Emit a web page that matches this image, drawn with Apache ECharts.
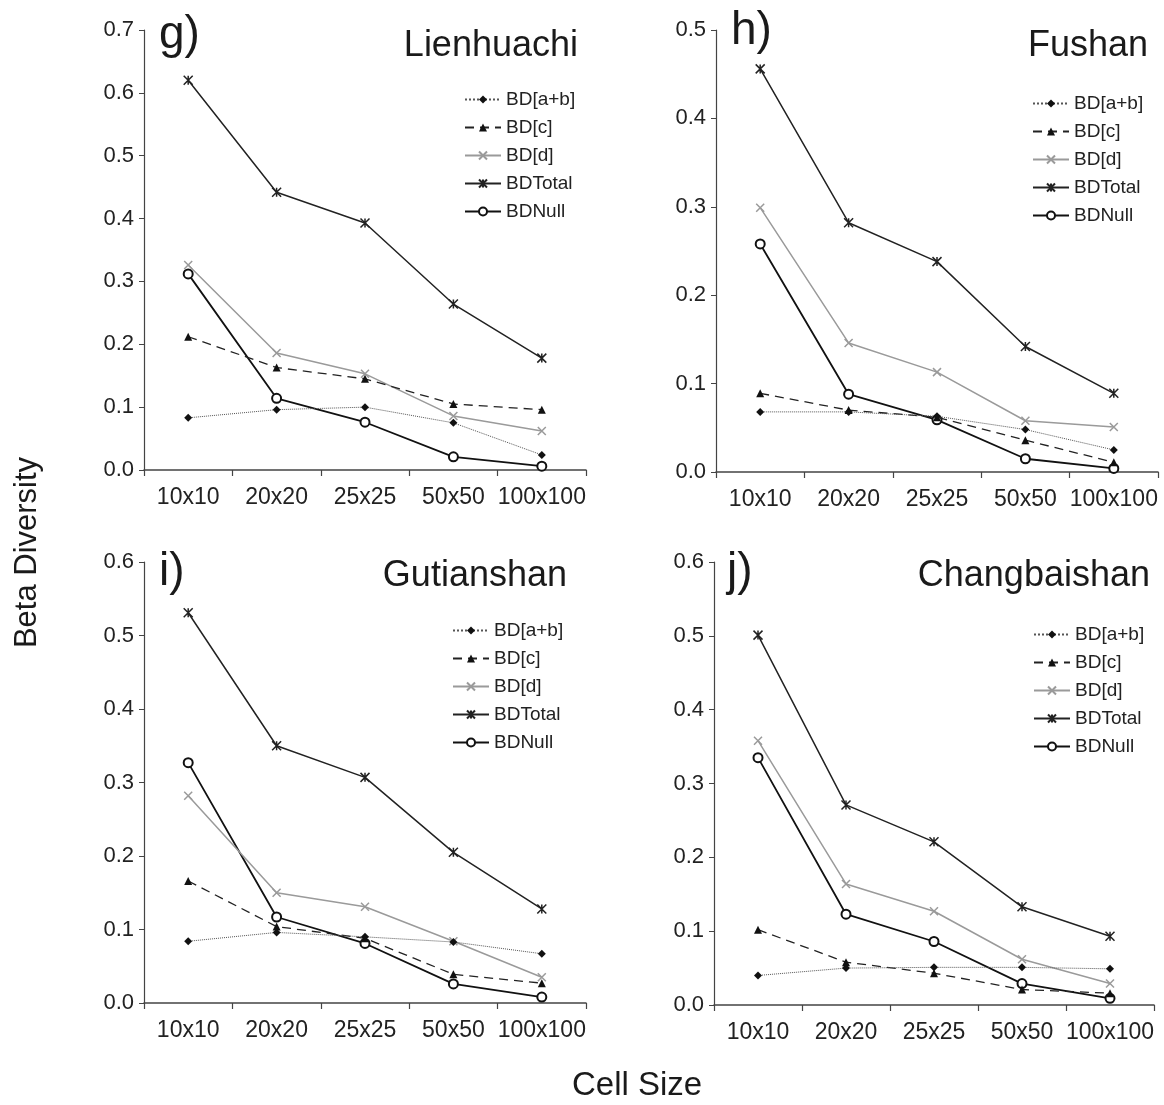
<!DOCTYPE html>
<html>
<head>
<meta charset="utf-8">
<title>Beta Diversity vs Cell Size</title>
<script src="https://cdn.jsdelivr.net/npm/echarts@6/dist/echarts.min.js"></script>
<style>
  html, body { margin: 0; padding: 0; background: #fff; }
  #main { width: 1164px; height: 1105px; }
</style>
</head>
<body>
<div id="main"></div>
<script>
// categories
const cellSizes = ['10x10', '20x20', '25x25', '50x50', '100x100'];
const seriesNames = ['BD[a+b]', 'BD[c]', 'BD[d]', 'BDTotal', 'BDNull'];

// g) Lienhuachi
const lienhuachiAB = [0.083, 0.096, 0.100, 0.075, 0.024];
const lienhuachiC = [0.212, 0.163, 0.145, 0.105, 0.096];
const lienhuachiD = [0.326, 0.186, 0.153, 0.086, 0.062];
const lienhuachiTotal = [0.620, 0.442, 0.393, 0.264, 0.178];
const lienhuachiNull = [0.312, 0.114, 0.076, 0.021, 0.006];

// h) Fushan
const fushanAB = [0.068, 0.068, 0.063, 0.048, 0.025];
const fushanC = [0.089, 0.070, 0.062, 0.036, 0.011];
const fushanD = [0.299, 0.146, 0.113, 0.058, 0.051];
const fushanTotal = [0.456, 0.282, 0.238, 0.142, 0.089];
const fushanNull = [0.258, 0.088, 0.059, 0.015, 0.004];

// i) Gutianshan
const gutianshanAB = [0.084, 0.096, 0.090, 0.083, 0.067];
const gutianshanC = [0.166, 0.104, 0.088, 0.039, 0.027];
const gutianshanD = [0.282, 0.150, 0.131, 0.084, 0.035];
const gutianshanTotal = [0.531, 0.350, 0.307, 0.205, 0.128];
const gutianshanNull = [0.327, 0.117, 0.081, 0.026, 0.008];

// j) Changbaishan
const changbaishanAB = [0.040, 0.050, 0.051, 0.051, 0.049];
const changbaishanC = [0.102, 0.058, 0.043, 0.021, 0.016];
const changbaishanD = [0.358, 0.164, 0.127, 0.062, 0.029];
const changbaishanTotal = [0.501, 0.271, 0.221, 0.133, 0.093];
const changbaishanNull = [0.335, 0.123, 0.086, 0.029, 0.009];

// y-axis maxima
const yMax = [0.7, 0.5, 0.6, 0.6];

const panels = [
    { tag: 'g)', site: 'Lienhuachi', data: [lienhuachiAB, lienhuachiC, lienhuachiD, lienhuachiTotal, lienhuachiNull],
      grid: { left: 144, top: 30, right: 578, bottom: 635 }, legend: { left: 459, top: 85 },
      tagPos: { left: 159, top: 12 }, sitePos: { right: 586, top: 28 } },
    { tag: 'h)', site: 'Fushan', data: [fushanAB, fushanC, fushanD, fushanTotal, fushanNull],
      grid: { left: 716, top: 30, right: 6, bottom: 633 }, legend: { left: 1027, top: 89 },
      tagPos: { left: 731, top: 8 }, sitePos: { right: 16, top: 28 } },
    { tag: 'i)', site: 'Gutianshan', data: [gutianshanAB, gutianshanC, gutianshanD, gutianshanTotal, gutianshanNull],
      grid: { left: 144, top: 562, right: 578, bottom: 102 }, legend: { left: 447, top: 616 },
      tagPos: { left: 159, top: 549 }, sitePos: { right: 597, top: 558 } },
    { tag: 'j)', site: 'Changbaishan', data: [changbaishanAB, changbaishanC, changbaishanD, changbaishanTotal, changbaishanNull],
      grid: { left: 714, top: 562, right: 10, bottom: 100 }, legend: { left: 1028, top: 620 },
      tagPos: { left: 727, top: 549 }, sitePos: { right: 14, top: 558 } }
];

const FONT = '"Liberation Sans", Arial, Helvetica, sans-serif';

// styles per series
const styles = [
    { symbol: 'diamond', symbolSize: 8, color: '#111', line: { type: 'dotted', width: 1, color: '#555' } },
    { symbol: 'triangle', symbolSize: 8, color: '#111', line: { type: [9, 6], width: 1.3, color: '#222' } },
    { symbol: 'path://M0,0L10,10M0,10L10,0', symbolSize: 8, color: '#9a9a9a', stroke: true, line: { type: 'solid', width: 1.5, color: '#9a9a9a' } },
    { symbol: 'path://M0,0L10,10M0,10L10,0M5,0L5,10', symbolSize: 9, color: '#222', stroke: true, line: { type: 'solid', width: 1.5, color: '#222' } },
    { symbol: 'emptyCircle', symbolSize: 9, color: '#111', line: { type: 'solid', width: 1.8, color: '#111' } }
];

const chart = echarts.init(document.getElementById('main'));

const grids = [], xAxes = [], yAxes = [], series = [], legends = [], titles = [];

panels.forEach((p, gi) => {
    grids.push(Object.assign({ containLabel: false }, p.grid));
    xAxes.push({
        type: 'category', gridIndex: gi, data: cellSizes, boundaryGap: true,
        axisLine: { lineStyle: { color: '#444', width: 1.5 } },
        axisTick: { show: true, length: 6, lineStyle: { color: '#444', width: 1.2 } },
        axisLabel: { fontSize: 23, color: '#222', fontFamily: FONT, margin: 16, interval: 0 },
        splitLine: { show: false }
    });
    yAxes.push({
        type: 'value', gridIndex: gi, min: 0, max: yMax[gi], interval: 0.1,
        axisLine: { show: true, lineStyle: { color: '#444', width: 1.2 } },
        axisTick: { show: true, length: 5, lineStyle: { color: '#444' } },
        axisLabel: { fontSize: 22, color: '#222', fontFamily: FONT, margin: 10, formatter: v => v.toFixed(1) },
        splitLine: { show: false }
    });
    seriesNames.forEach((name, si) => {
        const s = styles[si];
        series.push({
            name: name, type: 'line', xAxisIndex: gi, yAxisIndex: gi,
            data: p.data[si],
            symbol: s.symbol, symbolSize: s.symbolSize,
            lineStyle: s.line,
            itemStyle: s.stroke
                ? { color: s.color, borderColor: s.color, borderWidth: 1.5 }
                : { color: s.color, borderWidth: 1.5 },
            emphasis: { disabled: true },
            animation: false,
            z: 10 - si
        });
    });
    legends.push({
        data: seriesNames, orient: 'vertical', left: p.legend.left, top: p.legend.top,
        itemWidth: 36, itemHeight: 10, itemGap: 9,
        textStyle: { fontSize: 19, color: '#222', fontFamily: FONT },
        selectedMode: false
    });
    titles.push({
        text: p.tag, left: p.tagPos.left, top: p.tagPos.top, padding: 0,
        textStyle: { fontSize: 46, fontWeight: 'normal', color: '#1a1a1a', fontFamily: FONT }
    });
    titles.push({
        text: p.site, right: p.sitePos.right, top: p.sitePos.top, padding: 0,
        textStyle: { fontSize: 36, fontWeight: 'normal', color: '#1a1a1a', fontFamily: FONT }
    });
});

chart.setOption({
    animation: false,
    backgroundColor: '#fff',
    title: titles,
    grid: grids,
    xAxis: xAxes,
    yAxis: yAxes,
    legend: legends,
    series: series,
    graphic: [
        { type: 'text', left: 12, top: 'middle', rotation: Math.PI / 2,
          style: { text: 'Beta Diversity', fontSize: 31, fill: '#1a1a1a', fontFamily: FONT } },
        { type: 'text', left: 572, top: 1069,
          style: { text: 'Cell Size', fontSize: 33, fill: '#1a1a1a', fontFamily: FONT } }
    ]
});
</script>
</body>
</html>
